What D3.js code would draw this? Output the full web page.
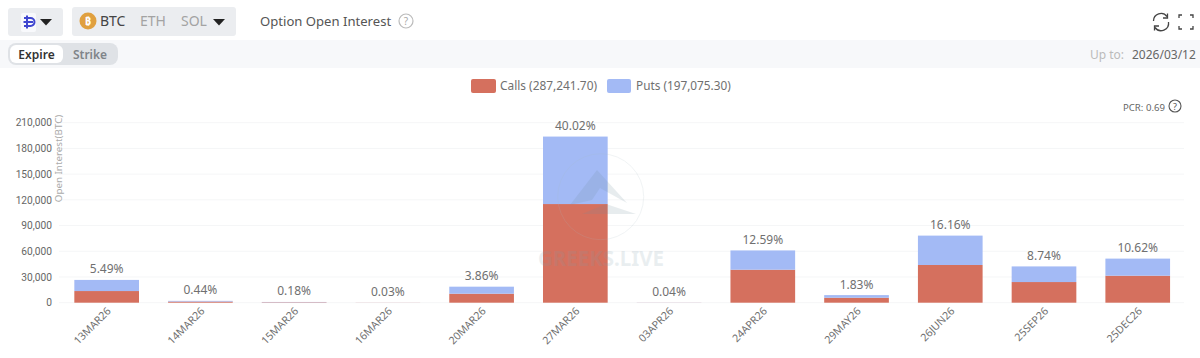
<!DOCTYPE html>
<html><head><meta charset="utf-8">
<script src="https://cdnjs.cloudflare.com/ajax/libs/d3/7.8.5/d3.min.js"></script>
<style>
html,body{margin:0;padding:0;background:#fff;overflow:hidden}
svg{display:block}
text{font-family:"Noto Sans",sans-serif}
.domain{display:none}
</style></head><body><svg id="c" width="1200" height="358"></svg>
<script>
const expiries=["13MAR26","14MAR26","15MAR26","16MAR26","20MAR26","27MAR26","03APR26","24APR26","29MAY26","26JUN26","25SEP26","25DEC26"];
const calls=[13600,1300,500,100,10500,115100,100,38500,5800,44000,24100,31500];
const puts=[12990,830,370,45,8195,78724,94,22475,3063,34266,18229,19934];
const shares=["5.49%","0.44%","0.18%","0.03%","3.86%","40.02%","0.04%","12.59%","1.83%","16.16%","8.74%","10.62%"];
const yTicks=[0,30000,60000,90000,120000,150000,180000,210000];
const legendLabels=["Calls (287,241.70)","Puts (197,075.30)"];
const colors={calls:"#d5705e",puts:"#a3baf5"};

const svg=d3.select("#c");
const x=d3.scaleBand().domain(expiries).range([59.8,1184.6]).paddingInner(0.31).paddingOuter(0.155);
const y=d3.scaleLinear().domain([0,210000]).range([302.7,122.7]);

function T(xp,yp,s,o={}){return svg.append("text").attr("x",xp).attr("y",yp).text(s)
  .attr("font-size",o.size||12).attr("fill",o.fill||"#666").attr("text-anchor",o.anchor||"start")
  .attr("font-weight",o.weight||400);}
function R(xp,yp,w,h,fill,r=0){return svg.append("rect").attr("x",xp).attr("y",yp).attr("width",w).attr("height",h).attr("fill",fill).attr("rx",r);}
function caret(cx,cy,w=6){svg.append("path").attr("d",`M${cx-w},${cy-3}L${cx+w},${cy-3}L${cx},${cy+3.5}Z`).attr("fill","#222");}

// top bar
R(8,8,55,28,"#ebedf0",3);
R(21,13,15,19,"#f8f9fc",2);
svg.append("path").attr("d","M24,18H30.5A3.5,3.5 0 0 1 30.5,26H24M27,15.5V28.5M23.5,22H33").attr("fill","none").attr("stroke","#3f46cf").attr("stroke-width",2);
caret(46,22);
R(72,7,164,29,"#ebedf0",3);
svg.append("circle").attr("cx",88).attr("cy",21).attr("r",8.5).attr("fill","#e0a03f");
T(88,25,"₿",{size:11,fill:"#fff",anchor:"middle",weight:700});
T(100,26,"BTC",{size:14,fill:"#444"});
T(140,26,"ETH",{size:14,fill:"#a3a3a3"});
T(181,26,"SOL",{size:14,fill:"#a3a3a3"});
caret(219,22);
T(260,26,"Option Open Interest",{size:13.1,fill:"#555"});
svg.append("circle").attr("cx",406).attr("cy",21).attr("r",7).attr("fill","none").attr("stroke","#bbb").attr("stroke-width",1.2);
T(406,25,"?",{size:10,fill:"#aaa",anchor:"middle"});
// refresh + fullscreen icons
svg.append("path").attr("d","M1153.5,21A7.5,7.5 0 0 1 1167,16.5M1168.5,22A7.5,7.5 0 0 1 1155,27.5M1167.5,13.5V18H1163M1154.5,30.5V26H1159").attr("fill","none").attr("stroke","#444").attr("stroke-width",1.3);
svg.append("path").attr("d","M1179,18V15H1182M1190,15H1193V18M1193,26V29H1190M1182,29H1179V26").attr("fill","none").attr("stroke","#444").attr("stroke-width",1.3);

// band
R(0,40,1200,28,"#f7f8fa");
R(8,43,110,22,"#dfe2e6",8);
R(10,45,53,18,"#fff",6);
T(36.5,59,"Expire",{size:12,fill:"#333",anchor:"middle",weight:600});
T(90,59,"Strike",{size:12,fill:"#7f8489",anchor:"middle",weight:600});
T(1124,59,"Up to:",{size:12,fill:"#bbb",anchor:"end"});
T(1132,59,"2026/03/12",{size:12,fill:"#666"});

// legend
R(471,79,25,14,colors.calls,2);
T(500,90,legendLabels[0],{size:11.9,fill:"#707070"});
R(607,79,24,14,colors.puts,2);
T(636,90,legendLabels[1],{size:11.8,fill:"#707070"});
T(1123,111,"PCR: 0.69",{size:9.6,fill:"#666"});
svg.append("circle").attr("cx",1175).attr("cy",106).attr("r",6).attr("fill","none").attr("stroke","#555").attr("stroke-width",1.1);
T(1175,109.5,"?",{size:9,fill:"#555",anchor:"middle"});

// y axis + grid
const yAxis=svg.append("g").attr("transform","translate(59,0)")
  .call(d3.axisLeft(y).tickValues(yTicks).tickFormat(d3.format(",")).tickSize(0).tickPadding(7));
yAxis.selectAll("text").attr("font-size",10.2).attr("fill","#666").style("font-family",'Roboto,sans-serif');
svg.append("g").selectAll("line").data(yTicks).join("line")
  .attr("x1",59).attr("x2",1184).attr("y1",d=>y(d)).attr("y2",d=>y(d)).attr("stroke","#f5f6f7");
svg.append("text").attr("transform","translate(62,158.5) rotate(-90)").attr("text-anchor","middle")
  .attr("font-size",9.8).attr("fill","#aaa").text("Open Interest(BTC)");

// bars
const rows=expiries.map((e,i)=>({e,c:calls[i],p:puts[i],s:shares[i]}));
const g=svg.append("g");
g.selectAll(".c").data(rows).join("rect").attr("x",d=>x(d.e)).attr("width",x.bandwidth())
  .attr("y",d=>y(d.c)).attr("height",d=>y(0)-y(d.c)).attr("fill",colors.calls);
g.selectAll(".p").data(rows).join("rect").attr("x",d=>x(d.e)).attr("width",x.bandwidth())
  .attr("y",d=>y(d.c+d.p)).attr("height",d=>y(d.c)-y(d.c+d.p)).attr("fill",colors.puts);
g.selectAll(".l").data(rows).join("text").attr("x",d=>x(d.e)+x.bandwidth()/2).attr("y",d=>y(d.c+d.p)-6.5)
  .attr("text-anchor","middle").attr("font-size",12).attr("fill","#707070").text(d=>d.s);

// x axis
const xAxis=svg.append("g").attr("transform","translate(0,302.7)")
  .call(d3.axisBottom(x).tickSize(0).tickPadding(0));
xAxis.selectAll("text").attr("font-size",10.6).attr("fill","#707070").style("font-family",'"Noto Sans",sans-serif')
  .attr("text-anchor","end").attr("dy",0).attr("transform","translate(5,9) rotate(-45)");

// watermark
const wm=svg.append("g").attr("opacity",0.16).attr("pointer-events","none");
wm.append("circle").attr("cx",600.7).attr("cy",196.7).attr("r",43).attr("fill","none").attr("stroke","#a9bcc4").attr("stroke-width",1);
wm.append("path").attr("d","M597,170L570,205L592,200L600,188L627,203Z").attr("fill","#6f8e9c");
wm.append("path").attr("d","M582,214H636L606,204Z").attr("fill","#6f8e9c");
wm.append("text").attr("x",601).attr("y",266).attr("text-anchor","middle").attr("font-size",20.5).attr("font-weight",700).attr("fill","#7e9ba8").text("GREEKS.LIVE");
</script></body></html>
